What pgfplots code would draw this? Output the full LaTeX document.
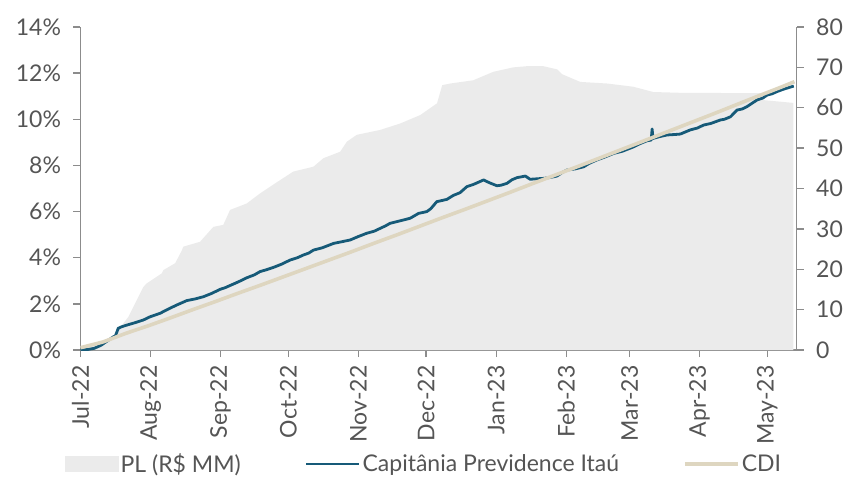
\documentclass[border=0pt]{standalone}
\usepackage{pgfplots}
\pgfplotsset{compat=1.18}
\usepackage{fontspec}
\setmainfont{Lato}

\definecolor{plgray}{RGB}{235,235,235}
\definecolor{capblue}{RGB}{22,90,120}
\definecolor{cdibeige}{RGB}{222,214,192}
\definecolor{axgray}{RGB}{140,140,140}
\definecolor{txtgray}{RGB}{85,85,85}

\pgfplotsset{
  linelegend/.style={legend image code/.code={\draw[##1] (0pt,0pt) -- (53pt,0pt);}},
  arealegend/.style={legend image code/.code={\fill[plgray] (0pt,-7.5pt) rectangle (53pt,7.5pt);}},
}

% days counted from 1 Jul 2022
\pgfplotstableread{
day pl
0 0.5
8.6 1.5
15.3 3.0
16.7 5.0
21.2 8.2
27.8 15.6
29.3 16.5
36 19.0
36.7 19.8
41.9 21.5
44.8 24.6
45.5 25.6
52.9 26.8
58.8 30.5
63.2 31.0
66.2 34.7
73.6 36.3
79.5 38.8
88.4 42.1
94.2 44.2
103.1 45.4
107.5 47.5
114.9 49.1
117.9 51.6
122.3 53.3
132.6 54.5
141.5 56.1
150.4 58.2
157.8 61.1
160.1 65.6
163.6 66.0
173.8 66.8
182.7 68.9
191.5 70.0
197.7 70.3
204.8 70.3
211 69.5
213.2 68.3
221.2 66.4
233.2 66.0
244.7 65.2
253.5 63.9
265.5 63.7
278.8 63.7
289 63.6
300.9 63.6
302.2 61.9
315.5 61.2
}\pldata

\pgfplotstableread{
day ret
0 0.00
3 0.02
6 0.07
9 0.20
12 0.40
14.5 0.57
15.5 0.62
16.7 0.94
18 1.00
20.5 1.08
24 1.18
27.8 1.30
30.8 1.44
35.2 1.59
39.6 1.81
42.6 1.95
47 2.14
51 2.22
54.4 2.31
58 2.45
61.8 2.63
64 2.70
67.7 2.86
70 2.96
73.6 3.13
77 3.26
79.5 3.40
82 3.47
85.4 3.58
89 3.72
92.8 3.90
96 4.00
98.7 4.12
101 4.20
103.1 4.33
107 4.43
112 4.62
116 4.70
119.4 4.77
123 4.92
126.7 5.06
130 5.15
132.6 5.27
135 5.38
137 5.49
141.5 5.60
145.9 5.71
149.6 5.92
153.3 6.00
155 6.12
157.7 6.43
160 6.48
162.2 6.53
165 6.70
168 6.82
171 7.08
174 7.18
178.4 7.37
181 7.25
184.3 7.12
186 7.14
188.7 7.22
191 7.38
193.2 7.47
196.9 7.54
199 7.40
202 7.42
205 7.44
208 7.48
210.9 7.54
213 7.68
215.3 7.80
219 7.85
222.7 7.94
225 8.08
228.6 8.24
232 8.36
236 8.52
240 8.62
244.9 8.81
248 8.96
250.8 9.07
252.6 9.10
253.0 9.58
253.4 9.17
256 9.24
259.6 9.32
263 9.34
265.5 9.36
269.9 9.54
273 9.62
275.8 9.75
279 9.82
283.2 9.97
285 10.00
287.7 10.11
290.6 10.40
293 10.45
295 10.55
297 10.68
299.5 10.84
302 10.92
303.9 11.05
306 11.10
308.3 11.20
311 11.30
313 11.36
315.7 11.44
}\capdata

\pgfplotstableread{
day ret
0 0.10
10 0.35
20 0.72
30 1.05
40 1.40
50 1.76
60 2.11
70 2.47
80 2.82
90 3.18
100 3.54
110 3.90
120 4.26
130 4.63
140 4.99
150 5.36
160 5.73
170 6.09
180 6.46
190 6.83
200 7.21
210 7.58
220 7.95
230 8.33
240 8.71
250 9.09
260 9.47
270 9.85
280 10.23
290 10.62
300 11.01
310 11.39
316 11.63
}\cdidata

\begin{document}
\begin{tikzpicture}
\pgfplotsset{
  base/.style={
    scale only axis, width=716.2pt, height=323pt,
    xmin=0, xmax=317,
    axis line style={axgray, line width=1.4pt},
    tick style={axgray, line width=1.4pt},
    major tick length=7pt,
    tick align=outside,
    ticklabel style={font=\fontsize{23}{26}\selectfont, text=txtgray},
    yticklabel shift=9pt,
    xticklabel shift=5pt,
  }
}
\begin{axis}[base,
  ymin=0, ymax=80,
  axis y line*=right, axis x line*=bottom,
  ytick={0,10,20,30,40,50,60,70,80},
  yticklabels={0,10,20,30,40,50,60,70,80},
  xtick={0,31,62,92,123,153,184,215,243,274,304},
  xticklabels={Jul-22,Aug-22,Sep-22,Oct-22,Nov-22,Dec-22,Jan-23,Feb-23,Mar-23,Apr-23,May-23},
  x tick label style={rotate=90, anchor=east},
]
\addplot[fill=plgray, draw=none] table[x=day, y=pl] {\pldata} \closedcycle;
\end{axis}
\begin{axis}[base,
  ymin=0, ymax=14,
  axis y line*=left, axis x line=none,
  ytick={0,2,4,6,8,10,12,14},
  yticklabels={0\%,2\%,4\%,6\%,8\%,10\%,12\%,14\%},
  legend columns=3,
  legend style={at={(-0.0216,-0.353)}, anchor=west, draw=none, fill=none,
    inner sep=0pt, font=\fontsize{23}{26}\selectfont, text=txtgray,
    /tikz/every even column/.append style={column sep=62pt},
    nodes={inner sep=2pt}},
]
\addlegendimage{arealegend}
\addlegendentry{PL (R\$ MM)}
\addplot[capblue, line width=2.8pt, line join=round, linelegend]
  table[x=day, y=ret] {\capdata};
\addlegendentry{Capitânia Previdence Itaú}
\addplot[cdibeige, line width=3.6pt, line join=round, linelegend]
  table[x=day, y=ret] {\cdidata};
\addlegendentry{CDI}
\end{axis}
\pgfresetboundingbox
\useasboundingbox (-80.5pt,-127pt) rectangle (769.5pt,350pt);
\end{tikzpicture}
\end{document}
